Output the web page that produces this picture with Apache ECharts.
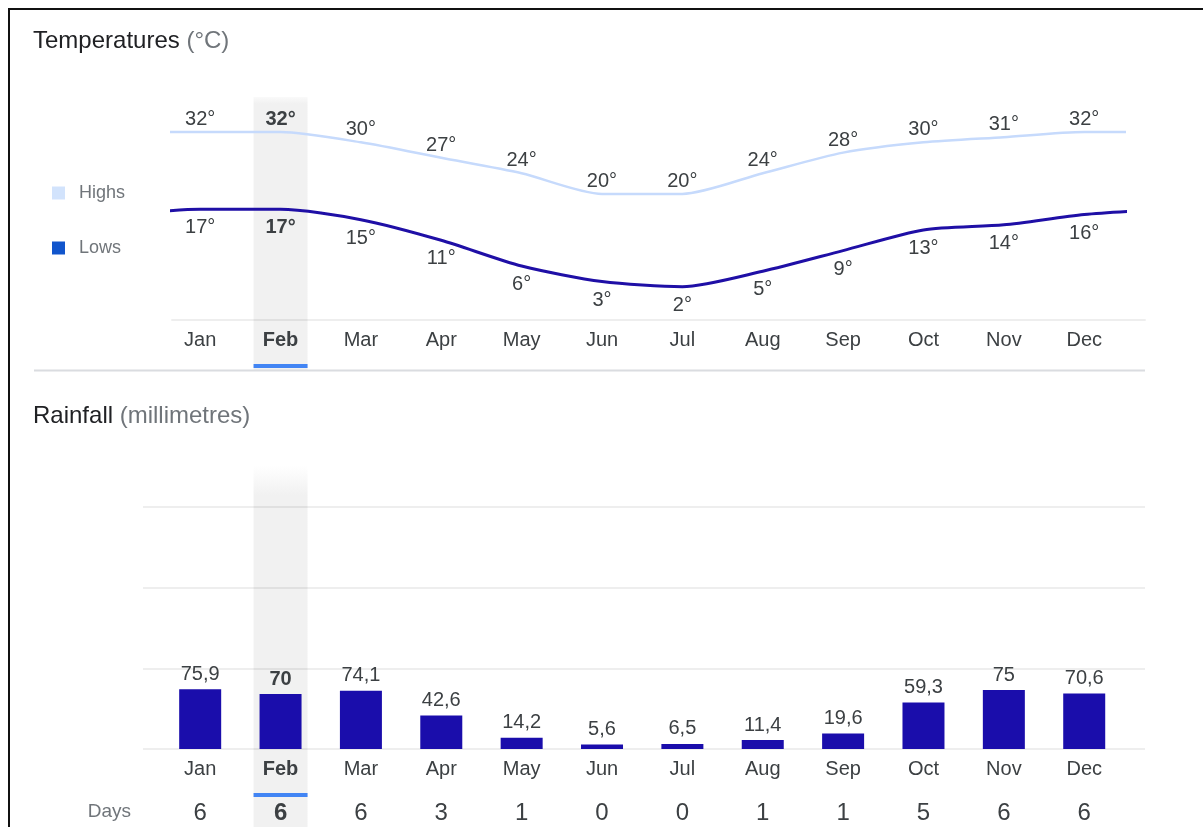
<!DOCTYPE html>
<html><head><meta charset="utf-8">
<script src="https://cdn.jsdelivr.net/npm/echarts@6/dist/echarts.min.js"></script>
<style>
html,body{margin:0;padding:0;background:#fff;overflow:hidden;}
#c{width:1203px;height:827px;}
#frame{position:absolute;left:8px;top:8px;width:1400px;height:1000px;border-left:2px solid #111;border-top:2px solid #111;pointer-events:none;}
</style></head><body>
<div id="c"></div><div id="frame"></div>
<script>
const months = ['Jan','Feb','Mar','Apr','May','Jun','Jul','Aug','Sep','Oct','Nov','Dec'];
const highs = [32,32,30,27,24,20,20,24,28,30,31,32];
const lows = [17,17,15,11,6,3,2,5,9,13,14,16];
const rainfall = [75.9,70,74.1,42.6,14.2,5.6,6.5,11.4,19.6,59.3,75,70.6];
const rainDays = [6,6,6,3,1,0,0,1,1,5,6,6];
const selectedMonth = 1;

const FONT = '"Liberation Sans", Arial, sans-serif';
const LABEL = '#3c4043';
const GRAY = '#70757a';
const GRID = 'rgba(0,0,0,0.065)';

const chart = echarts.init(document.getElementById('c'));

// wrap-around: previous December before January, next January after December; clipped by axis range
function wrapLine(vals){
  const n = vals.length;
  const out = [{value:[-1, vals[n-1]], label:{show:false}}];
  vals.forEach((v,i)=>out.push({value:[i,v], label: i===selectedMonth ? {fontWeight:'bold'} : {}}));
  out.push({value:[n, vals[0]], label:{show:false}});
  return out;
}
function catFmt(v, i){ return i===selectedMonth ? '{b|'+v+'}' : '{n|'+v+'}'; }
function catRich(fs){ return {n:{fontSize:fs,color:LABEL,fontFamily:FONT}, b:{fontSize:fs,color:LABEL,fontFamily:FONT,fontWeight:'bold'}}; }
const titleRich = {a:{fontSize:24,color:'#202124',fontFamily:FONT,fontWeight:'normal'}, b:{fontSize:24,color:GRAY,fontFamily:FONT,fontWeight:'normal'}};

const option = {
  animation:false,
  backgroundColor:'#fff',
  textStyle:{fontFamily:FONT},
  title:[
    {left:33, top:29, padding:0, text:'{a|Temperatures} {b|(°C)}',
     textStyle:{fontWeight:'normal', fontSize:24, rich:titleRich}},
    {left:33, top:404, padding:0, text:'{a|Rainfall} {b|(millimetres)}',
     textStyle:{fontWeight:'normal', fontSize:24, rich:titleRich}}
  ],
  legend:{orient:'vertical', left:52, top:184, itemWidth:13, itemHeight:13, itemGap:37, icon:'rect', padding:0,
    selectedMode:false,
    textStyle:{fontSize:18, color:GRAY, fontFamily:FONT, padding:[0,0,0,9]},
    data:[{name:'Highs', itemStyle:{color:'#d2e3fc'}}, {name:'Lows', itemStyle:{color:'#1155cc'}}]},
  grid:[
    {left:160, right:78.6, top:97, height:223},
    {left:172, right:78.6, top:97, height:223},
    {left:172, right:58, top:97, height:223},
    {left:160, right:78.6, top:507, height:242},
    {left:143, right:58, top:507, height:242}
  ],
  xAxis:[
    {gridIndex:0, type:'category', data:months, boundaryGap:true, axisLine:{show:false}, axisTick:{show:false},
     axisLabel:{margin:10, formatter:catFmt, rich:catRich(20)}},
    {gridIndex:1, type:'value', min:-0.35, max:11.5, show:false},
    {gridIndex:2, type:'value', min:0, max:1, axisLine:{show:true, onZero:false, lineStyle:{color:GRID,width:2}},
     axisLabel:{show:false}, axisTick:{show:false}, splitLine:{show:false}},
    {gridIndex:3, type:'category', data:months, boundaryGap:true, axisLine:{show:false}, axisTick:{show:false},
     axisLabel:{margin:10, formatter:catFmt, rich:catRich(20)}},
    {gridIndex:3, type:'category', data:rainDays.map(String), boundaryGap:true, position:'bottom', offset:63,
     axisLine:{show:false}, axisTick:{show:false},
     axisLabel:{margin:-11, formatter:catFmt, rich:catRich(24)},
     name:'Days', nameLocation:'start', nameGap:29, nameTextStyle:{fontSize:19, color:GRAY, fontFamily:FONT}},
    {gridIndex:4, type:'value', min:0, max:1, show:false}
  ],
  yAxis:[
    {gridIndex:0, type:'value', min:0, max:1, show:false},
    {gridIndex:1, type:'value', min:-4.46, max:38.79, show:false},
    {gridIndex:2, type:'value', min:0, max:1, show:false},
    {gridIndex:3, type:'value', min:0, max:308, show:false},
    {gridIndex:4, type:'value', min:0, max:308, interval:308/3, axisLine:{show:false}, axisTick:{show:false},
     axisLabel:{show:false}, splitLine:{show:true, lineStyle:{color:GRID, width:2}}}
  ],
  series:[
    {name:'Highs', type:'line', xAxisIndex:1, yAxisIndex:1, data:wrapLine(highs), smooth:0.25, clip:true,
     symbol:'circle', symbolSize:1, itemStyle:{color:'rgba(0,0,0,0)'},
     lineStyle:{color:'#c6dafc', width:2.5}, z:5,
     label:{show:true, position:'top', distance:2, fontSize:20, color:LABEL, fontFamily:FONT,
       formatter:p=>p.value[1]+'°'}},
    {name:'Lows', type:'line', xAxisIndex:1, yAxisIndex:1, data:wrapLine(lows), smooth:0.25, clip:true,
     symbol:'circle', symbolSize:1, itemStyle:{color:'rgba(0,0,0,0)'},
     lineStyle:{color:'#1f0fa6', width:3}, z:5,
     label:{show:true, position:'bottom', distance:8, fontSize:20, color:LABEL, fontFamily:FONT,
       formatter:p=>p.value[1]+'°'}},
    {name:'Rainfall', type:'bar', xAxisIndex:3, yAxisIndex:3, barWidth:42, z:5,
     data:rainfall.map((v,i)=> i===selectedMonth ? {value:v, label:{fontWeight:'bold'}} : v),
     itemStyle:{color:'#1a0dab'},
     label:{show:true, position:'top', distance:5, fontSize:20, color:LABEL, fontFamily:FONT,
       formatter:p=>String(p.value).replace('.', ',')}}
  ]
};
chart.setOption(option);

const cx = chart.convertToPixel({xAxisIndex:0}, months[selectedMonth]);
const hw = 27;
chart.setOption({graphic:[
  {type:'rect', z:-1, silent:true, shape:{x:cx-hw, y:97, width:hw*2, height:273},
   style:{fill:new echarts.graphic.LinearGradient(0,0,0,1,[{offset:0,color:'rgba(241,241,241,0.4)'},{offset:0.025,color:'#f1f1f1'},{offset:1,color:'#f1f1f1'}])}},
  {type:'rect', z:-1, silent:true, shape:{x:cx-hw, y:466, width:hw*2, height:361},
   style:{fill:new echarts.graphic.LinearGradient(0,0,0,1,[{offset:0,color:'rgba(241,241,241,0)'},{offset:0.08,color:'#f1f1f1'},{offset:1,color:'#f1f1f1'}])}},
  {type:'rect', silent:true, shape:{x:cx-hw, y:364, width:hw*2, height:4}, style:{fill:'#4285f4'}},
  {type:'rect', silent:true, shape:{x:cx-hw, y:793, width:hw*2, height:4}, style:{fill:'#4285f4'}},
  {type:'line', silent:true, shape:{x1:34, y1:370.5, x2:1145, y2:370.5}, style:{stroke:'#dadce0', lineWidth:2}}
]});
</script>
</body></html>
